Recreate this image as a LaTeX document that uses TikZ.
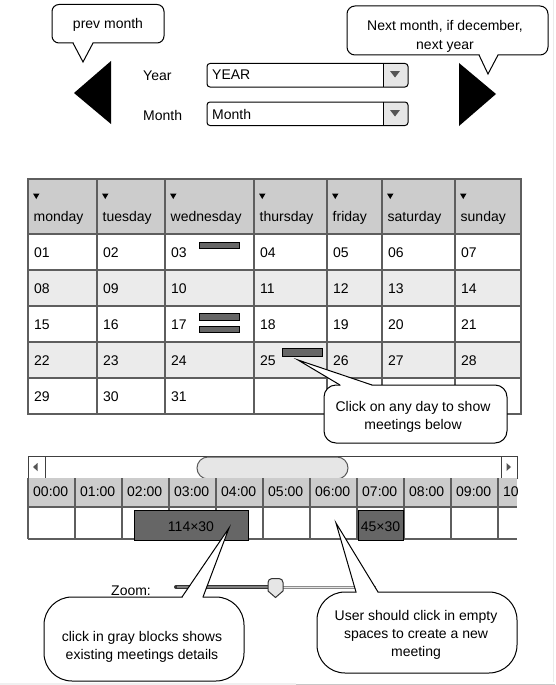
\documentclass[tikz,border=0pt]{standalone}
\usepackage{fontspec}
\setmainfont{Liberation Sans}
\definecolor{hdr}{HTML}{CCCCCC}
\definecolor{alt}{HTML}{EBEBEB}
\definecolor{gridc}{HTML}{5E5E5E}
\definecolor{blk}{HTML}{666666}
\definecolor{btn}{HTML}{E6E6E6}
\definecolor{arr}{HTML}{555555}
\begin{document}
\begin{tikzpicture}[x=1pt,y=-1pt,
  every node/.style={inner sep=0pt, font=\fontsize{14}{18}\selectfont},
  gridline/.style={draw=gridc, line width=2pt},
  callout/.style={draw=black, fill=white, line width=1pt},
  tail/.style={draw=black, line width=1pt},
  txt/.style={anchor=base west},
  ctxt/.style={anchor=base, align=center},
  dropbox/.style={draw=black, line width=1pt, rounded corners=3pt},
  meet/.style={draw=black, fill=blk, line width=0.8pt}]
\useasboundingbox (0,0) rectangle (555,685);
\fill[white] (0,0) rectangle (555,685);

% ---------- top: navigation ----------
\fill[black] (111,61) -- (74,93) -- (111,124) -- cycle;
\fill[black] (459,63) -- (496,94) -- (459,126) -- cycle;

\node[txt] (lyear) at (143,81) {Year};
\node[txt] (lmonth) at (143,120) {Month};

% year dropdown
\fill[btn, rounded corners=3pt] (383,63.5) rectangle (408,87);
\fill[btn] (383,63.5) rectangle (392,87);
\draw[line width=1pt] (383,63.5) -- (383,87);
\draw[dropbox] (207,63.5) rectangle (408,87);
\fill[arr] (390,71) -- (400,71) -- (395,77.5) -- cycle;
\node[txt] (vyear) at (212,80) {YEAR};
% month dropdown
\fill[btn, rounded corners=3pt] (383,102) rectangle (408,125.5);
\fill[btn] (383,102) rectangle (392,125.5);
\draw[line width=1pt] (383,102) -- (383,125.5);
\draw[dropbox] (207,102) rectangle (408,125.5);
\fill[arr] (390,110) -- (400,110) -- (395,116.5) -- cycle;
\node[txt] (vmonth) at (212,119) {Month};

% prev month callout
\draw[callout, rounded corners=7pt] (52,4.5) rectangle (164,43);
\fill[white] (73.5,41.5) -- (73.5,43) -- (83,62) -- (92.5,43) -- (92.5,41.5) -- cycle;
\draw[tail] (73,43) -- (83,62) -- (93,43);
\node[ctxt] (cprev) at (108,29) {prev month};

% next month callout
\draw[callout, rounded corners=8pt] (347,6) rectangle (548,55);
\fill[white] (479.5,53.5) -- (479.5,55) -- (488,74) -- (497.5,55) -- (497.5,53.5) -- cycle;
\draw[tail] (479,55) -- (488,74) -- (498,55);
\node[ctxt] (cnext) at (445,49) {Next month, if december,\\next year};

% ---------- calendar ----------
\fill[hdr] (28,179) rectangle (521,234);
\fill[alt] (28,270) rectangle (521,306);
\fill[alt] (28,342) rectangle (521,378);
\foreach \x in {97,165,254,327,382,455}
  \draw[gridline] (\x,179) -- (\x,414);
\foreach \y in {234,270,306,342,378}
  \draw[gridline] (28,\y) -- (521,\y);
\draw[gridline] (28,179) rectangle (521,414);

\foreach \x/\d in {28/monday,97/tuesday,165/wednesday,254/thursday,327/friday,382/saturday,455/sunday}{
  \fill[black] (\x+5,193.5) -- (\x+11.5,193.5) -- (\x+8.25,199) -- cycle;
  \node[txt] (d\d) at (\x+5.5,221) {\d};
}
\foreach \r in {0,1,2,3,4}{
  \foreach \x [count=\i] in {28,97,165,254,327,382,455}{
    \pgfmathtruncatemacro{\n}{7*\r+\i}
    \ifnum\n<32
      \node[txt] (n\n) at (\x+6,257+36*\r) {\ifnum\n<10 0\fi\n};
    \fi
  }
}
% small meeting blocks
\draw[meet] (199,242) rectangle (239,248.5);
\draw[meet] (199,313.5) rectangle (239,320);
\draw[meet] (199,326) rectangle (239,332.5);
\draw[meet] (282,348.5) rectangle (322,356);

% click callout
\draw[callout, rounded corners=12pt] (324,385) rectangle (507,443);
\fill[white] (340.5,386.5) -- (340.5,385) -- (298,360) -- (371.5,385) -- (371.5,386.5) -- cycle;
\draw[tail] (340,385) -- (298,360) -- (372,385);
\node[ctxt] (cclick) at (413,429) {Click on any day to show\\meetings below};

% ---------- scrollbar ----------
\draw[draw=black!75, line width=1pt, fill=white] (28,456) rectangle (517,478);
\draw[draw=black!75, line width=1pt] (45,456) -- (45,478);
\draw[draw=black!75, line width=1pt] (501,456) -- (501,478);
\fill[arr] (37.5,463) -- (33,467) -- (37.5,471) -- cycle;
\fill[arr] (506.5,463) -- (511,467) -- (506.5,471) -- cycle;
\draw[draw=black!65, fill=btn, line width=1pt, rounded corners=11pt] (197,457) rectangle (348,479);

% ---------- timeline ----------
\fill[hdr] (28,478) rectangle (517,507);
\foreach \x in {28,75,122,169,216,263,310,357,404,451,498}
  \draw[gridline] (\x,478) -- (\x,539);
\draw[gridline] (28,507) -- (517,507);
\draw[gridline] (28,539) -- (517,539);
\begin{scope}
  \clip (28,478) rectangle (517,507);
  \foreach \i in {0,...,10}
    \node[txt] (h\i) at (33+47*\i,496) {\ifnum\i<10 0\fi\i:00};
\end{scope}
\draw[meet] (134,510) rectangle (248,540);
\node[anchor=base] (m1) at (191,531) {114×30};
\draw[meet] (358,510) rectangle (403,540);
\node[anchor=base] (m2) at (380.5,531) {45×30};

% ---------- zoom slider ----------
\node[txt] (lzoom) at (111,595) {Zoom:};
\draw[line width=4pt, draw=black!80, line cap=round] (176,587) -- (270,587);
\draw[line width=1.6pt, draw=black!50] (177,587) -- (270,587);
\draw[line width=3pt, draw=black!45] (283,587) -- (376,587);
\draw[line width=1pt, draw=black!10] (283,587) -- (376,587);
\draw[fill=btn, draw=black!80, line width=1pt] (275.5,597.5) -- (268,591)
  [rounded corners=4pt] -- (268,578.5) -- (283,578.5) [sharp corners] -- (283,591) -- cycle;

% ---------- bottom callouts ----------
\draw[callout, rounded corners=28pt] (44,597) rectangle (244,681);
\fill[white] (182.5,598.5) -- (182.5,597) -- (229,528) -- (202.5,597) -- (202.5,598.5) -- cycle;
\draw[tail] (182,597) -- (229,528) -- (203,597);
\node[ctxt] (cgray) at (142,659.5) {click in gray blocks shows\\existing meetings details};

\draw[callout, rounded corners=28pt] (317,592) rectangle (517,673);
\fill[white] (356.5,593.5) -- (356.5,592) -- (336,523) -- (377.5,592) -- (377.5,593.5) -- cycle;
\draw[tail] (356,592) -- (336,523) -- (378,592);
\node[ctxt] (cempty) at (416,656) {User should click in empty\\spaces to create a new\\meeting};

% ---------- window edges ----------
\fill[black!6] (0,682.5) rectangle (296,685);
\draw[black!22, line width=1pt] (296,684) -- (555,684);
\draw[black!8, line width=1pt] (553.5,0) -- (553.5,682);
\end{tikzpicture}
\end{document}
